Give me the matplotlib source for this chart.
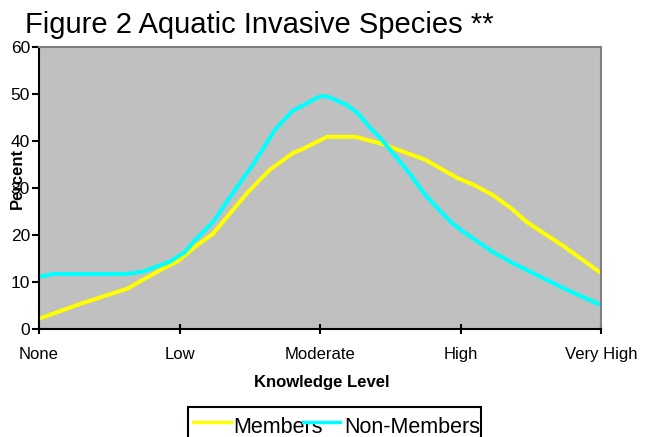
import matplotlib
matplotlib.use("Agg")
import matplotlib.pyplot as plt
from matplotlib.lines import Line2D
from matplotlib.patches import Rectangle

plt.rcParams["font.family"] = ["Liberation Sans", "DejaVu Sans"]

W, H = 646, 437

categories = ["None", "Low", "Moderate", "High", "Very High"]

# smoothed curve vertices as drawn (x in category units)
members_x = [0, 0.30, 0.63, 0.86, 0.98, 1.04, 1.11, 1.24, 1.48, 1.64, 1.81, 1.87,
             2.05, 2.25, 2.44, 2.75, 2.98, 3.10, 3.23, 3.36, 3.47, 3.74, 4.0]
members_y = [2.2, 5.4, 8.6, 12.5, 14.3, 15.7, 17.5, 20.3, 28.9, 33.8, 37.5, 38.2,
             40.9, 40.9, 39.4, 36.0, 32.1, 30.6, 28.5, 25.7, 22.8, 17.5, 11.9]

non_members_x = [0, 0.10, 0.62, 0.74, 0.93, 1.04, 1.11, 1.24, 1.36, 1.53, 1.68, 1.80,
                 1.93, 2.00, 2.05, 2.19, 2.27, 2.36, 2.43, 2.62, 2.75, 2.85, 2.94,
                 3.02, 3.23, 3.38, 3.76, 4.0]
non_members_y = [11.1, 11.7, 11.7, 12.2, 14.3, 16.4, 18.9, 22.8, 28.1, 35.3, 42.4, 46.3,
                 48.4, 49.5, 49.5, 47.7, 45.9, 42.7, 40.6, 33.8, 28.5, 25.3, 22.5,
                 20.7, 16.4, 13.9, 8.3, 5.1]

series_names = ["Members", "Non-Members"]
series_colors = ["#FFFF00", "#00FFFF"]


def fx(px):
    return px / W


def fy(py):
    return 1 - py / H


fig = plt.figure(figsize=(W / 100, H / 100), dpi=100)
ax = fig.add_axes([fx(39), fy(329), fx(601) - fx(39), fy(47) - fy(329)])
ax.set_facecolor("#C0C0C0")

ax.plot(members_x, members_y, color=series_colors[0], lw=2.9, solid_joinstyle="miter")
ax.plot(non_members_x, non_members_y, color=series_colors[1], lw=2.9, solid_joinstyle="miter")

ax.set_xlim(0, len(categories) - 1)
ax.set_ylim(0, 60)
ax.set_xticks(range(len(categories)))
ax.set_xticklabels(categories, fontsize=12)
ax.set_yticks(range(0, 61, 10))
ax.tick_params(axis="y", direction="out", length=5, width=1.5, pad=1.5, labelsize=12.5)
ax.tick_params(axis="x", direction="inout", length=7.5, width=1.5, pad=9)

for side in ("left", "bottom"):
    ax.spines[side].set_color("black")
    ax.spines[side].set_linewidth(1.5)
for side in ("top", "right"):
    ax.spines[side].set_color("#808080")
    ax.spines[side].set_linewidth(1.5)

fig.text(fx(25), fy(33), "Figure 2 Aquatic Invasive Species **", fontsize=21,
         ha="left", va="baseline")
fig.text(fx(322), fy(383), "Knowledge Level", fontsize=12, fontweight="bold",
         ha="center", va="center")
fig.text(fx(17), fy(178), "Percent", fontsize=12, fontweight="bold",
         rotation=90, ha="center", va="center")

# legend box (cut off by the bottom edge in the original)
fig.add_artist(Rectangle((fx(188), fy(450)), fx(481) - fx(188), fy(407) - fy(450),
                         transform=fig.transFigure, facecolor="white",
                         edgecolor="black", lw=1.5, zorder=1))
handle_spans = [(193, 231), (303, 340)]
text_left = [233, 344]
for name, color, (x0, x1), tx in zip(series_names, series_colors, handle_spans, text_left):
    fig.add_artist(Line2D([fx(x0), fx(x1)], [fy(422), fy(422)], transform=fig.transFigure,
                          color=color, lw=2.5, zorder=3))
    fig.text(fx(tx), fy(433), name, fontsize=15.5, ha="left", va="baseline", zorder=2)

fig.savefig("out.png", dpi=100)
